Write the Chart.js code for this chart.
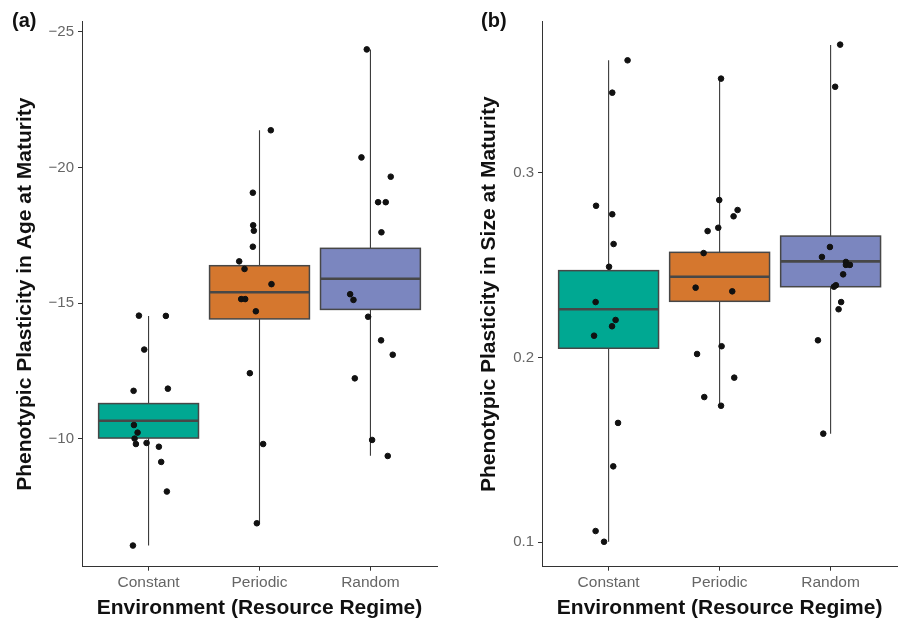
<!DOCTYPE html>
<html>
<head>
<meta charset="utf-8">
<script src="https://cdn.jsdelivr.net/npm/chart.js@4/dist/chart.umd.min.js"></script>
<style>
  body { margin: 0; background: #fff; }
  #wrap { position: relative; width: 901px; height: 625px; font-family: "Liberation Sans", Arial, sans-serif; }
  canvas { position: absolute; top: 0; }
  .tag { position: absolute; font: bold 20px "Liberation Sans", Arial, sans-serif; color: #111; }
</style>
</head>
<body>
<div id="wrap">
  <canvas id="chartA" width="450" height="625" style="left:0"></canvas>
  <canvas id="chartB" width="451" height="625" style="left:450px"></canvas>
  <div class="tag" style="left:12px; top:9px">(a)</div>
  <div class="tag" style="left:481px; top:9px">(b)</div>
</div>
<script>
// ===============================
// DATA
// ===============================
const categories = ["Constant", "Periodic", "Random"];
const boxColors = ["#00a892", "#d5772e", "#7b86bf"];

// panel (a) - age at maturity
const ageTicks = [-25, -20, -15, -10];
const ageBoxLow = [-11.30, -16.38, -17.02];
const ageBoxHigh = [-10.03, -14.42, -14.77];
const ageMedian = [-10.67, -15.40, -15.90];
const ageWhiskLow = [-14.53, -21.37, -24.35];
const ageWhiskHigh = [-6.07, -6.89, -9.38];

const ageConstant = [-14.54, -14.53, -13.29, -11.77, -11.85, -10.51, -10.23, -10.01, -9.81, -9.85, -9.71, -9.15, -8.06, -6.07];
const ageConstantJit = [-0.087, 0.156, -0.039, -0.135, 0.174, -0.132, -0.099, -0.126, -0.114, -0.018, 0.093, 0.114, 0.165, -0.141];
const agePeriodic = [-21.37, -19.07, -17.87, -17.67, -17.08, -16.54, -16.26, -15.70, -15.15, -15.15, -14.70, -12.42, -9.81, -6.89];
const agePeriodicJit = [0.102, -0.060, -0.057, -0.051, -0.060, -0.183, -0.135, 0.108, -0.165, -0.129, -0.033, -0.087, 0.033, -0.024];
const ageRandom = [-24.35, -20.37, -19.66, -18.72, -18.72, -17.61, -15.33, -15.12, -14.50, -13.63, -13.10, -12.23, -9.96, -9.37];
const ageRandomJit = [-0.033, -0.081, 0.183, 0.069, 0.138, 0.099, -0.183, -0.153, -0.021, 0.096, 0.201, -0.141, 0.015, 0.156];

// panel (b) - size at maturity
const sizeTicks = [0.1, 0.2, 0.3];
const sizeBoxLow = [0.2050, 0.2304, 0.2383];
const sizeBoxHigh = [0.2470, 0.2569, 0.2657];
const sizeMedian = [0.2261, 0.2437, 0.2520];
const sizeWhiskLow = [0.1003, 0.1739, 0.1588];
const sizeWhiskHigh = [0.3608, 0.3509, 0.3691];

const sizeConstant = [0.3608, 0.3433, 0.2821, 0.2775, 0.2614, 0.2491, 0.2300, 0.2203, 0.2169, 0.2118, 0.1646, 0.1411, 0.1061, 0.1003];
const sizeConstantJit = [0.171, 0.033, -0.113, 0.033, 0.045, 0.004, -0.117, 0.063, 0.031, -0.131, 0.085, 0.042, -0.117, -0.041];
const sizePeriodic = [0.3509, 0.2852, 0.2798, 0.2764, 0.2702, 0.2684, 0.2565, 0.2378, 0.2358, 0.2061, 0.2019, 0.1891, 0.1786, 0.1739];
const sizePeriodicJit = [0.013, -0.003, 0.162, 0.126, -0.012, -0.108, -0.144, -0.216, 0.114, 0.018, -0.203, 0.132, -0.138, 0.013];
const sizeRandom = [0.3693, 0.3465, 0.2598, 0.2544, 0.2517, 0.2501, 0.2501, 0.2450, 0.2383, 0.2391, 0.2300, 0.2261, 0.2093, 0.1588];
const sizeRandomJit = [0.086, 0.041, -0.006, -0.078, 0.138, 0.138, 0.174, 0.113, 0.030, 0.048, 0.095, 0.072, -0.114, -0.066];

// ===============================
// HELPERS
// ===============================
const FONT = "'Liberation Sans', Arial, sans-serif";

function jitterPoints(groups, jitters) {
  const pts = [];
  groups.forEach((vals, g) => {
    vals.forEach((v, i) => pts.push({ x: g + 1 + jitters[g][i], y: v }));
  });
  return pts;
}

// boxes + whiskers drawn under the points, using the chart scales
function boxPlugin(stats) {
  return {
    id: "boxes",
    beforeDatasetsDraw(chart) {
      const { ctx, scales: { x, y } } = chart;
      ctx.save();
      for (let i = 0; i < categories.length; i++) {
        const cx = x.getPixelForValue(i + 1);
        const x0 = x.getPixelForValue(i + 1 - 0.45);
        const x1 = x.getPixelForValue(i + 1 + 0.45);
        const yLo = y.getPixelForValue(stats.boxLow[i]);
        const yHi = y.getPixelForValue(stats.boxHigh[i]);
        const yMed = y.getPixelForValue(stats.median[i]);

        ctx.strokeStyle = "#3a3a3a";
        ctx.lineWidth = 1.1;
        ctx.beginPath();
        ctx.moveTo(cx, y.getPixelForValue(stats.whiskLow[i]));
        ctx.lineTo(cx, y.getPixelForValue(stats.whiskHigh[i]));
        ctx.stroke();

        const top = Math.min(yLo, yHi), h = Math.abs(yHi - yLo);
        ctx.fillStyle = boxColors[i];
        ctx.fillRect(x0, top, x1 - x0, h);
        ctx.strokeStyle = "#474747";
        ctx.lineWidth = 1.5;
        ctx.strokeRect(x0, top, x1 - x0, h);

        ctx.lineWidth = 2.6;
        ctx.beginPath();
        ctx.moveTo(x0, yMed);
        ctx.lineTo(x1, yMed);
        ctx.stroke();
      }
      ctx.restore();
    }
  };
}

function makeChart(id, cfg) {
  return new Chart(document.getElementById(id), {
    type: "scatter",
    data: {
      datasets: [{
        data: cfg.points,
        backgroundColor: "#111",
        borderColor: "#111",
        pointRadius: 2.8,
        pointHoverRadius: 2.8,
      }]
    },
    options: {
      responsive: false,
      animation: false,
      devicePixelRatio: 1,
      layout: { padding: { top: 21.7, right: cfg.padRight, bottom: 0, left: 0 } },
      plugins: { legend: { display: false }, tooltip: { enabled: false } },
      scales: {
        x: {
          type: "linear",
          min: 0.4,
          max: 3.6,
          afterBuildTicks: (s) => { s.ticks = categories.map((_, i) => ({ value: i + 1 })); },
          afterFit: (s) => { s.height = 58.3; },
          ticks: {
            callback: (v) => categories[Math.round(v) - 1],
            color: "#666",
            font: { family: FONT, size: 15.5 },
            padding: 3,
            maxRotation: 0,
          },
          grid: { drawOnChartArea: false, drawTicks: true, tickLength: 4, color: "#333" },
          border: { display: true, color: "#333", width: 1 },
          title: {
            display: true,
            text: "Environment (Resource Regime)",
            color: "#111",
            font: { family: FONT, size: 21, weight: "bold" },
            padding: { top: 0, bottom: 4.4 },
          },
        },
        y: {
          type: "linear",
          min: cfg.yMin,
          max: cfg.yMax,
          reverse: cfg.reverse,
          afterBuildTicks: (s) => { s.ticks = cfg.yTicks.map((v) => ({ value: v })); },
          afterFit: (s) => { s.width = cfg.axisWidth; },
          ticks: {
            callback: (v) => (v < 0 ? "\u2212" + Math.abs(v) : String(v)),
            color: "#666",
            font: { family: FONT, size: 15 },
            padding: 4,
          },
          grid: { drawOnChartArea: false, drawTicks: true, tickLength: 4, color: "#333" },
          border: { display: true, color: "#333", width: 1 },
          title: {
            display: true,
            text: cfg.yTitle,
            color: "#111",
            font: { family: FONT, size: 21, weight: "bold" },
            padding: { top: cfg.titlePad, bottom: 0 },
          },
        },
      },
    },
    plugins: [boxPlugin(cfg.stats)],
  });
}

// ===============================
// CHARTS
// ===============================
makeChart("chartA", {
  points: jitterPoints([ageConstant, agePeriodic, ageRandom], [ageConstantJit, agePeriodicJit, ageRandomJit]),
  stats: { boxLow: ageBoxLow, boxHigh: ageBoxHigh, median: ageMedian, whiskLow: ageWhiskLow, whiskHigh: ageWhiskHigh },
  yTicks: ageTicks,
  yMin: -25.37,
  yMax: -5.29,
  reverse: true,
  yTitle: "Phenotypic Plasticity in Age at Maturity",
  axisWidth: 82,
  titlePad: 12.4,
  padRight: 13,
});

makeChart("chartB", {
  points: jitterPoints([sizeConstant, sizePeriodic, sizeRandom], [sizeConstantJit, sizePeriodicJit, sizeRandomJit]),
  stats: { boxLow: sizeBoxLow, boxHigh: sizeBoxHigh, median: sizeMedian, whiskLow: sizeWhiskLow, whiskHigh: sizeWhiskHigh },
  yTicks: sizeTicks,
  yMin: 0.0868,
  yMax: 0.3817,
  reverse: false,
  yTitle: "Phenotypic Plasticity in Size at Maturity",
  axisWidth: 92,
  titlePad: 26.4,
  padRight: 3.6,
});
</script>
</body>
</html>
